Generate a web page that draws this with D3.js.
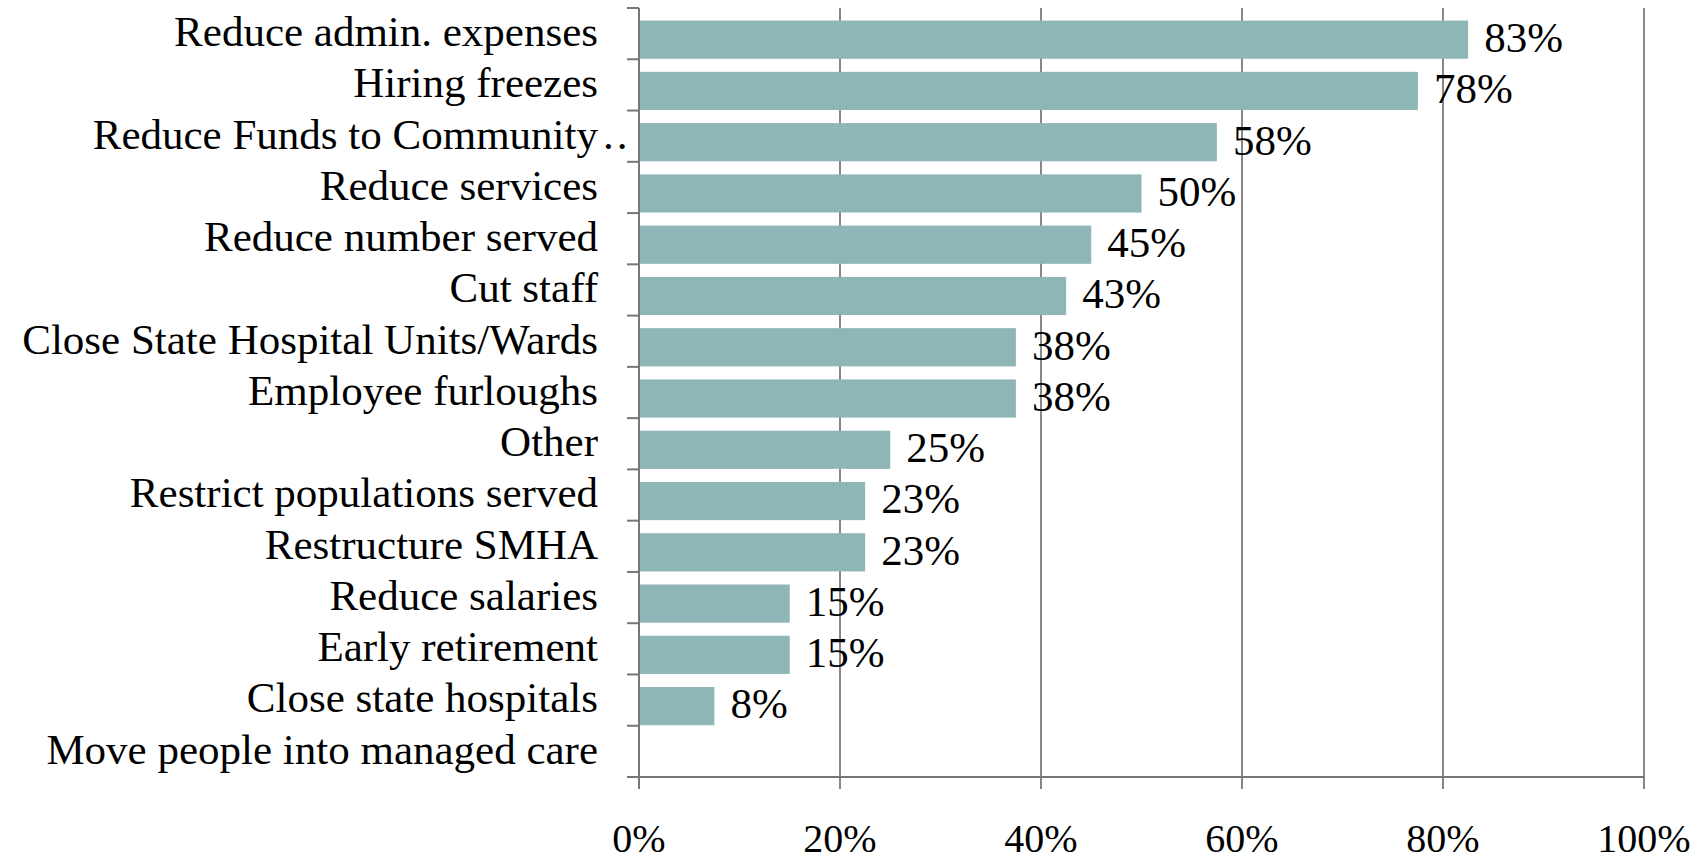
<!DOCTYPE html>
<html><head><meta charset="utf-8">
<script src="https://cdn.jsdelivr.net/npm/d3@7"></script>
<style>body{margin:0;background:#fff}svg{display:block}text{font-family:"Liberation Serif","DejaVu Serif",serif;fill:#000}</style>
</head><body><svg id="c" width="1707" height="862"></svg>
<script>
const categories = ["Reduce admin. expenses","Hiring freezes","Reduce Funds to Community..","Reduce services","Reduce number served","Cut staff","Close State Hospital Units/Wards","Employee furloughs","Other","Restrict populations served","Restructure SMHA","Reduce salaries","Early retirement","Close state hospitals","Move people into managed care"];
const values = [0.825,0.775,0.575,0.5,0.45,0.425,0.375,0.375,0.25,0.225,0.225,0.15,0.15,0.075,0];
const valueLabels = ["83%","78%","58%","50%","45%","43%","38%","38%","25%","23%","23%","15%","15%","8%",""];
const xTicks = [0,0.2,0.4,0.6,0.8,1.0];
const xTickLabels = ["0%","20%","40%","60%","80%","100%"];

(function(){
const svg = d3.select("#c");
const pl = 639, pr = 1644, pt = 8, pb = 777;
const x = d3.scaleLinear().domain([0,1]).range([pl,pr]);
const y = d3.scaleBand().domain(categories).range([pt,pb]);
const step = y.step();

svg.append("g").selectAll("line").data(xTicks.slice(1)).join("line")
  .attr("x1",d=>x(d)).attr("x2",d=>x(d)).attr("y1",pt).attr("y2",pb+12)
  .attr("stroke","#878787").attr("stroke-width",2);

svg.append("g").selectAll("rect").data(categories).join("rect")
  .attr("x",x(0)).attr("y",d=>y(d)+step*0.245)
  .attr("width",(d,i)=>x(values[i])-x(0)).attr("height",step*0.745)
  .attr("fill","#8fb6b7");

svg.append("g").selectAll("text").data(categories).join("text")
  .attr("x",(d,i)=>x(values[i])+16).attr("y",d=>y(d)+44)
  .attr("font-size",43)
  .text((d,i)=>valueLabels[i]);

const ga = svg.append("g");
ga.append("line").attr("x1",pl).attr("x2",pl).attr("y1",pt).attr("y2",pb+12)
  .attr("stroke","#767676").attr("stroke-width",2);
const bounds = categories.map(d=>y(d)).concat([pb]);
ga.selectAll("line.t").data(bounds).join("line").attr("class","t")
  .attr("x1",pl-12).attr("x2",pl).attr("y1",d=>d).attr("y2",d=>d)
  .attr("stroke","#767676").attr("stroke-width",2);
const lab = ga.selectAll("g.l").data(categories).join("g").attr("class","l");
lab.append("text")
  .attr("x",598).attr("y",d=>y(d)+38).attr("text-anchor","end")
  .attr("font-size",43).text(d=>d.endsWith("..")?d.slice(0,-2):d);
lab.filter(d=>d.endsWith("..")).append("text")
  .attr("x",603).attr("y",d=>y(d)+38).attr("font-size",43).attr("letter-spacing",3).text("..");

svg.append("line").attr("x1",pl-12).attr("x2",pr).attr("y1",pb).attr("y2",pb)
  .attr("stroke","#767676").attr("stroke-width",2);
svg.append("g").selectAll("text").data(xTicks).join("text")
  .attr("x",d=>x(d)).attr("y",852).attr("text-anchor","middle").attr("font-size",40)
  .text((d,i)=>xTickLabels[i]);
})();
</script></body></html>
